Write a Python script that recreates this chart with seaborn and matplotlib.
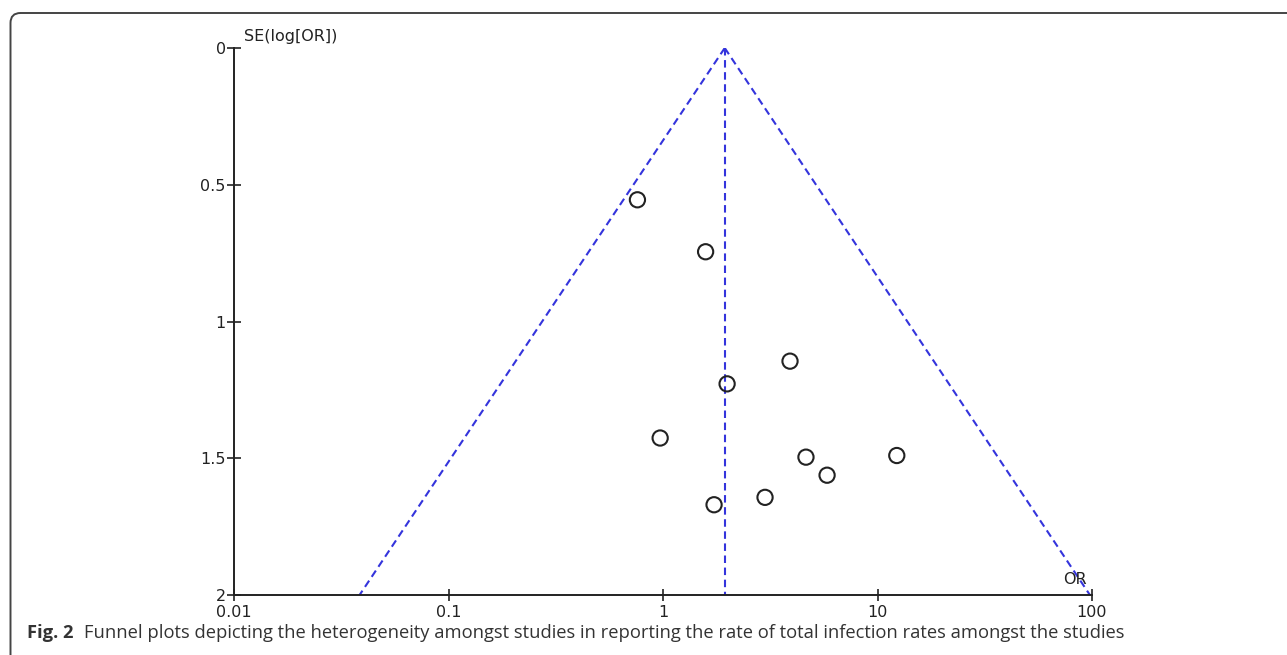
import numpy as np
import pandas as pd
import matplotlib
matplotlib.use('Agg')
import matplotlib.pyplot as plt
from matplotlib.patches import FancyBboxPatch
from matplotlib.transforms import IdentityTransform
import seaborn as sns

# study estimates
odds_ratio = [0.76, 1.58, 3.91, 1.99, 0.97, 4.64, 12.3, 5.82, 2.99, 1.73]
se_log_or = [0.555, 0.745, 1.145, 1.228, 1.426, 1.496, 1.490, 1.562, 1.643, 1.670]
pooled_or = 1.94
se_range = [0.0, 2.0]

x_ticks = [0.01, 0.1, 1, 10, 100]
x_labels = ['0.01', '0.1', '1', '10', '100']
y_ticks = [0, 0.5, 1, 1.5, 2]
y_labels = ['0', '0.5', '1', '1.5', '2']

df = pd.DataFrame({'OR': odds_ratio, 'SE': se_log_or})

# 95% pseudo confidence limits of the funnel
se_arr = np.array(se_range)
funnel = pd.DataFrame({
    'SE': np.concatenate([se_arr, se_arr]),
    'OR': np.concatenate([pooled_or * np.exp(-1.96 * se_arr), pooled_or * np.exp(1.96 * se_arr)]),
    'side': ['lower'] * 2 + ['upper'] * 2,
})

sns.set_style('white')
plt.rcParams['font.family'] = ['DejaVu Sans']
axis_font = 'DejaVu Sans'

fig = plt.figure(figsize=(12.87, 6.55), dpi=100)
ax = fig.add_axes([234 / 1287, 1 - 595 / 655, 858 / 1287, 547 / 655])

line_color = '#3434dc'
dash = (0, (3.6, 2.2))
for side, grp in funnel.groupby('side'):
    ax.plot(grp['OR'], grp['SE'], color=line_color, lw=1.5, ls=dash)
ax.plot([pooled_or, pooled_or], se_range, color=line_color, lw=1.5, ls=dash)

sns.scatterplot(data=df, x='OR', y='SE', ax=ax, marker='o', s=120,
                facecolor='none', edgecolor='#222222', linewidth=1.5, zorder=3)

ax.set_xscale('log')
ax.set_xlim(0.01, 100)
ax.set_ylim(2, 0)
ax.set_xticks(x_ticks)
ax.set_xticklabels(x_labels, family=axis_font)
ax.minorticks_off()
ax.set_yticks(y_ticks)
ax.set_yticklabels(y_labels, family=axis_font)
ax.set_xlabel('')
ax.set_ylabel('')

for s in ['top', 'right']:
    ax.spines[s].set_visible(False)
for s in ['left', 'bottom']:
    ax.spines[s].set_color('#222222')
    ax.spines[s].set_linewidth(1.4)
ax.tick_params(axis='y', left=True, direction='inout', length=10, width=1.2, color='#222222',
               labelsize=11.5, pad=1, labelcolor='#222222')
ax.tick_params(axis='x', bottom=True, direction='inout', length=8, width=1.2, color='#222222',
               labelsize=11.5, pad=3, labelcolor='#222222')

fig.text(244 / 1287, 1 - 37 / 655, 'SE(log[OR])', fontsize=11.5, color='#222222',
         family=axis_font, ha='left', va='center')
fig.text(1075 / 1287, 1 - 580 / 655, 'OR', fontsize=11.5, color='#222222',
         family=axis_font, ha='center', va='center')

# caption: bold label followed by the description
cap_y = 1 - 633 / 655
lab = fig.text(27 / 1287, cap_y, 'Fig. 2', fontsize=13.2, fontweight='bold', color='#333333',
               family='Open Sans', ha='left', va='center')
renderer = fig.canvas.get_renderer()
lab_right = lab.get_window_extent(renderer).x1
fig.text((lab_right + 10) / 1287, cap_y,
         'Funnel plots depicting the heterogeneity amongst studies in reporting the rate of '
         'total infection rates amongst the studies',
         fontsize=13.2, color='#333333', family='Open Sans', ha='left', va='center')

# frame around the figure, only the top-left corner is visible
frame = FancyBboxPatch((10.5, -30), 1400, 655 - 13 + 30,
                       boxstyle='round,pad=0,rounding_size=10',
                       transform=IdentityTransform(), fill=False,
                       edgecolor='#444444', linewidth=1.4)
fig.add_artist(frame)

fig.savefig('out.png', dpi=100)
